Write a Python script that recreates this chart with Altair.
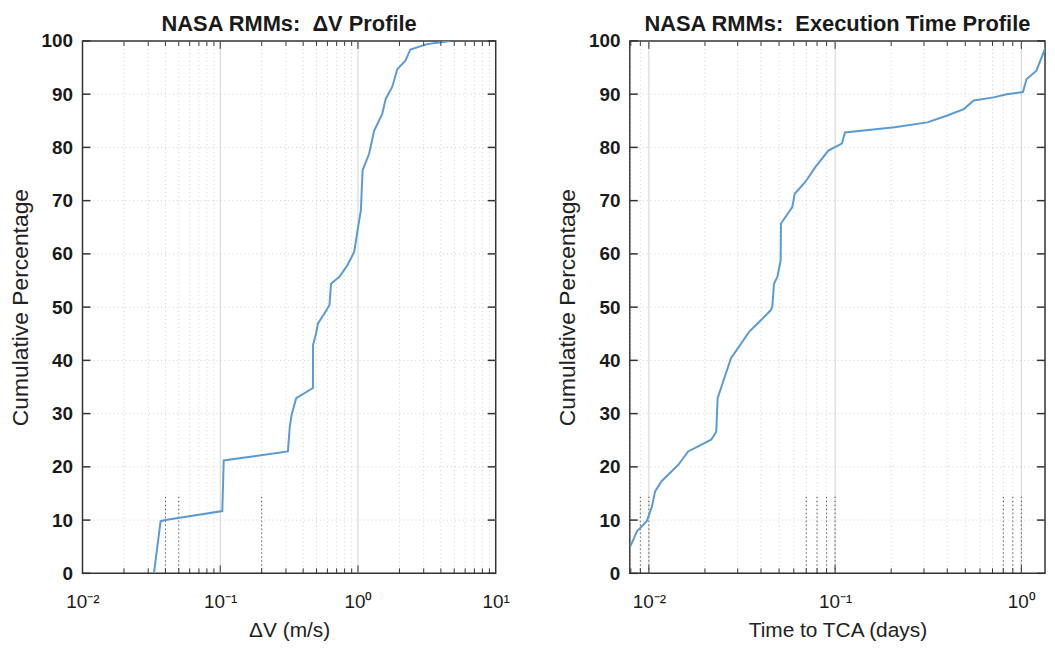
import altair as alt
import pandas as pd

# ---- data ----
dv_ms = [0.033, 0.0369, 0.040, 0.1035, 0.106, 0.31, 0.32, 0.33, 0.356, 0.471, 0.472,
         0.497, 0.511, 0.571, 0.621, 0.638, 0.733, 0.84, 0.94, 0.993, 1.05, 1.08,
         1.205, 1.31, 1.50, 1.59, 1.77, 1.93, 2.21, 2.40, 3.18, 4.68]
dv_cum = [0.0, 9.8, 10.0, 11.7, 21.2, 22.9, 27.6, 29.8, 32.9, 34.8, 42.9,
          45.1, 46.9, 48.8, 50.4, 54.4, 55.7, 57.9, 60.4, 64.4, 68.2, 75.7,
          78.8, 83.1, 86.3, 89.1, 91.3, 94.7, 96.3, 98.4, 99.4, 100.0]

tca_days = [0.00796, 0.00863, 0.00975, 0.0104, 0.0108, 0.0117, 0.0144, 0.01626,
            0.0216, 0.023, 0.0234, 0.0244, 0.0276, 0.0346, 0.0391, 0.0451, 0.0460,
            0.047, 0.049, 0.051, 0.0512, 0.0589, 0.0607, 0.0692, 0.0783, 0.092,
            0.1086, 0.113, 0.2085, 0.313, 0.40, 0.491, 0.555, 0.71, 0.835, 1.02,
            1.066, 1.205, 1.36]
tca_cum = [5.1, 7.9, 9.8, 12.6, 15.4, 17.3, 20.4, 22.9,
           25.1, 26.6, 32.9, 34.8, 40.4, 45.4, 47.2, 49.4, 50.1,
           54.4, 55.7, 58.8, 65.7, 68.8, 71.3, 73.5, 76.3, 79.4,
           80.7, 82.8, 83.8, 84.7, 86.0, 87.2, 88.8, 89.4, 90.0, 90.4,
           92.8, 94.4, 99.1]

y_ticks = [0, 10, 20, 30, 40, 50, 60, 70, 80, 90, 100]
dv_domain = [0.01, 10]
tca_domain = [0.0079, 1.34]
dv_decades = [0.01, 0.1, 1, 10]
tca_decades = [0.01, 0.1, 1]
dv_dots_x = [0.04, 0.05, 0.2]
tca_dots_x = [0.009, 0.01, 0.07, 0.08, 0.09, 0.1, 0.8, 0.9, 1.0]
dots_top = [14.5]

LINE = "#5b9bd5"
FRAME = "#333333"
FONT = "Liberation Sans"
TITLE_FONT = "Liberation Sans"
H = 536


def minors(decades, domain):
    out = []
    for d in [decades[0] / 10] + decades:
        for m in range(2, 10):
            v = m * d
            if domain[0] <= v <= domain[1]:
                out.append(v)
    return out


label_expr = ("datum.value < 0.05 ? '10⁻²' : datum.value < 0.5 ? '10⁻¹' : "
              "datum.value < 5 ? '10⁰' : '10¹'")


def panel(xs, ys, domain, decades, dots_x, title, xtitle, W):
    xscale = alt.Scale(type="log", domain=domain, nice=False, clamp=False)
    yscale = alt.Scale(domain=[0, 100], nice=False)
    xaxis = alt.Axis(values=decades, labelExpr=label_expr, grid=False, ticks=False,
                     domain=False, title=xtitle, labelFont=FONT, labelFontSize=19,
                     labelColor="#1a1a1a", labelPadding=19, titleFont=FONT,
                     titleFontSize=21, titleFontWeight="normal", titleColor="#222222",
                     titlePadding=9, labelFlush=False, labelOverlap=False)
    yaxis = alt.Axis(values=y_ticks, grid=False, ticks=False, domain=False,
                     title="Cumulative Percentage", labelFont=FONT, labelFontSize=19,
                     labelFontWeight="bold", labelColor="#1a1a1a", labelPadding=10,
                     titleFont=FONT, titleFontSize=23, titleFontWeight="normal",
                     titleColor="#222222", titlePadding=9, labelFlush=False)

    mins = minors(decades, domain)
    inner_dec = [d for d in decades if domain[0] < d < domain[1]]

    minor_df = pd.DataFrame({"v": mins})
    major_df = pd.DataFrame({"v": inner_dec})
    ygrid_df = pd.DataFrame({"y": y_ticks[1:-1]})
    yt_df = pd.DataFrame({"y": y_ticks})
    dots_df = pd.DataFrame({"v": dots_x, "y0": [0.0] * len(dots_x),
                            "y1": dots_top * len(dots_x)})
    line_df = pd.DataFrame({"v": xs, "c": ys})

    X = lambda f: alt.X(f, type="quantitative", scale=xscale, axis=xaxis)
    Y = lambda f: alt.Y(f, type="quantitative", scale=yscale, axis=yaxis)

    g_minor = alt.Chart(minor_df).mark_rule(color="#cfcfcf", strokeWidth=1,
                                            strokeDash=[1, 3]).encode(x=X("v"))
    g_major = alt.Chart(major_df).mark_rule(color="#d2d2d2", strokeWidth=1).encode(x=X("v"))
    g_y = alt.Chart(ygrid_df).mark_rule(color="#d0d0d0", strokeWidth=1,
                                        strokeDash=[1, 3]).encode(y=Y("y"))
    dots = alt.Chart(dots_df).mark_rule(color="#222222", strokeWidth=1,
                                        strokeDash=[1, 3]).encode(
        x=X("v"), y=Y("y0"), y2="y1")
    line = alt.Chart(line_df).mark_line(color=LINE, strokeWidth=2, clip=True).encode(
        x=X("v"), y=Y("c"), order="c")

    tick_color = "#333333"
    tb_minor = alt.Chart(minor_df).mark_rule(color=tick_color, strokeWidth=1).encode(
        x=X("v"), y=alt.value(H), y2=alt.value(H - 5))
    tt_minor = alt.Chart(minor_df).mark_rule(color=tick_color, strokeWidth=1).encode(
        x=X("v"), y=alt.value(0), y2=alt.value(5))
    tb_major = alt.Chart(major_df).mark_rule(color=tick_color, strokeWidth=1).encode(
        x=X("v"), y=alt.value(H), y2=alt.value(H - 8))
    tt_major = alt.Chart(major_df).mark_rule(color=tick_color, strokeWidth=1).encode(
        x=X("v"), y=alt.value(0), y2=alt.value(8))
    tl = alt.Chart(yt_df).mark_rule(color=tick_color, strokeWidth=1.5).encode(
        y=Y("y"), x=alt.value(0), x2=alt.value(8))
    tr = alt.Chart(yt_df).mark_rule(color=tick_color, strokeWidth=1.5).encode(
        y=Y("y"), x=alt.value(W), x2=alt.value(W - 8))

    return alt.layer(g_minor, g_major, g_y, dots, line,
                     tb_minor, tt_minor, tb_major, tt_major, tl, tr).properties(
        width=W, height=H,
        title=alt.TitleParams(title, font=TITLE_FONT, fontSize=22, fontWeight="bold",
                              color="#1a1a1a", anchor="middle", offset=-4))


left = panel(dv_ms, dv_cum, dv_domain, dv_decades, dv_dots_x,
             "NASA RMMs:\u00a0\u00a0ΔV Profile", "ΔV (m/s)", 416)
right = panel(tca_days, tca_cum, tca_domain, tca_decades, tca_dots_x,
              "NASA RMMs:\u00a0\u00a0Execution Time Profile", "Time to TCA (days)", 418)

chart = alt.hconcat(left, right, spacing=45).properties(
    padding={"left": 0, "top": 2, "right": 0, "bottom": 0},
    background="white"
).configure_view(stroke=FRAME, strokeWidth=1.5)

chart.save("out.html", embed_options={"renderer": "svg", "actions": False})
